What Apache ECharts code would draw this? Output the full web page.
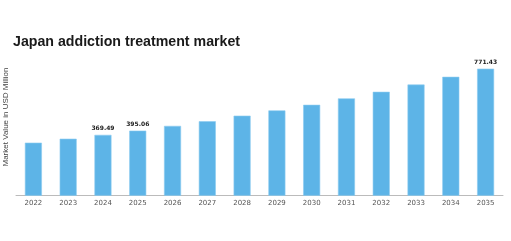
<!DOCTYPE html>
<html><head><meta charset="utf-8">
<script src="https://cdn.jsdelivr.net/npm/echarts@6/dist/echarts.min.js"></script>
<style>html,body{margin:0;padding:0;background:#fff}#c{width:511px;height:241px}</style>
</head><body><div id="c"></div>
<script>
const years = ['2022','2023','2024','2025','2026','2027','2028','2029','2030','2031','2032','2033','2034','2035'];
const values = [322, 346, 369.49, 395.06, 424, 452, 486, 518, 552, 591, 631, 675, 722, 771.43];
const labeled = ['2024','2025','2035'];
const yName = 'Market Value in USD Million';

const chart = echarts.init(document.getElementById('c'), null, {renderer:'canvas'});
chart.setOption({
  animation:false,
  backgroundColor:'#fff',
  title:{text:'Japan addiction treatment market', left:13, top:35, padding:0,
    textStyle:{fontFamily:'Liberation Sans, Arial', fontWeight:'bold', fontSize:14.2, color:'#1a1a1a'}},
  grid:{left:16, right:8, top:47.5, bottom:45.3, outerBoundsMode:'none', containLabel:false},
  graphic:[{type:'text', x:6, y:117, rotation:Math.PI/2,
    style:{text:yName, fontFamily:'Liberation Sans, Arial', fontSize:8, fill:'#444',
      textAlign:'center', textVerticalAlign:'middle'}}],
  xAxis:{type:'category', data:years,
    axisLine:{show:true, lineStyle:{color:'#bbb', width:1}},
    axisTick:{show:false},
    axisLabel:{fontFamily:'DejaVu Sans', fontSize:7, color:'#555', margin:4}},
  yAxis:{type:'value', min:0, max:900, show:true,
    axisLine:{show:false}, axisTick:{show:false}, axisLabel:{show:false}, splitLine:{show:false}},
  series:[{type:'bar', data:values, barWidth:17,
    itemStyle:{color:'#5DB4E7', borderColor:'#8CCBF0', borderWidth:0.6},
    label:{show:true, position:'top', distance:3,
      fontFamily:'DejaVu Sans', fontWeight:'bold', fontSize:6, color:'#222',
      formatter:p=> labeled.includes(p.name) ? p.value.toFixed(2) : ''}}]
});
</script></body></html>
